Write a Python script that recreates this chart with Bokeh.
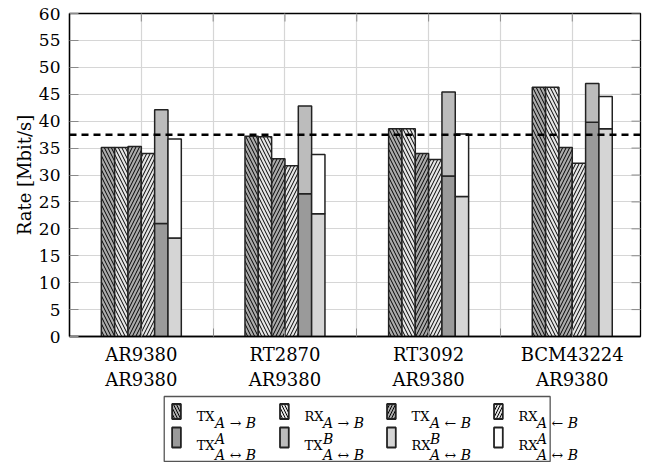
from bokeh.plotting import figure
from bokeh.models import Range1d, FixedTicker, Span
from bokeh.layouts import column
from bokeh.embed import file_html
from bokeh.resources import INLINE
from bokeh.core.properties import value

# ---------------- data ----------------
group_labels = ["AR9380\nAR9380", "RT2870\nAR9380", "RT3092\nAR9380", "BCM43224\nAR9380"]
group_pos = [1, 3, 5, 7]
tx_a_to_b = [35.1, 37.2, 38.6, 46.3]
rx_a_to_b = [35.1, 37.1, 38.6, 46.3]
tx_a_from_b = [35.3, 33.0, 34.0, 35.1]
rx_a_from_b = [34.0, 31.7, 32.9, 32.2]
tx_bi_A = [21.0, 26.5, 29.8, 39.8]
tx_bi_B = [21.1, 16.3, 15.6, 7.2]
rx_bi_B = [18.3, 22.8, 26.0, 38.6]
rx_bi_A = [18.4, 11.0, 11.6, 6.0]
reference_rate = 37.5
y_ticks = [0, 5, 10, 15, 20, 25, 30, 35, 40, 45, 50, 55, 60]
grid_x = [1, 2, 3, 4, 5, 6, 7]

FONT = "DejaVu Serif"
EDGE = "#222222"
TICK = "#8a8a8a"
GRID = "#d6d6d6"

st_tx_ab = dict(fill_color="#ababab", hatch_pattern="left_diagonal_line")
st_rx_ab = dict(fill_color="#e6e6e6", hatch_pattern="left_diagonal_line")
st_tx_ba = dict(fill_color="#ababab", hatch_pattern="right_diagonal_line")
st_rx_ba = dict(fill_color="#e6e6e6", hatch_pattern="right_diagonal_line")
st_txA = dict(fill_color="#9a9a9a")
st_txB = dict(fill_color="#bcbcbc")
st_rxB = dict(fill_color="#d5d5d5")
st_rxA = dict(fill_color="#ffffff")
HATCH = dict(hatch_color="black", hatch_scale=7, hatch_weight=1)

bw = 0.1856
X0, X1, Y0, Y1 = 0, 7.95, 0, 60
FRAME_W, FRAME_H = 571, 323  # frame size in px (for tick lengths)

p = figure(width=651, height=392, output_backend="svg", toolbar_location=None,
           x_range=Range1d(X0, X1), y_range=Range1d(Y0, Y1),
           min_border_left=69, min_border_right=11, min_border_top=13, min_border_bottom=56)
p.outline_line_color = "black"
p.outline_line_width = 1.3
p.background_fill_color = "white"
p.border_fill_color = "white"

p.xgrid.ticker = FixedTicker(ticks=grid_x)
p.ygrid.ticker = FixedTicker(ticks=y_ticks)
for g in (p.xgrid, p.ygrid):
    g.grid_line_color = GRID
    g.grid_line_width = 1.2

xa = p.xaxis[0]
xa.ticker = FixedTicker(ticks=group_pos, minor_ticks=[2, 4, 6])
xa.major_label_overrides = {k: v for k, v in zip(group_pos, group_labels)}
xa.major_label_text_font = FONT
xa.major_label_text_font_size = "18px"
xa.major_label_text_color = "black"
xa.major_label_standoff = 7
xa.major_tick_in = 8
xa.major_tick_out = 0
xa.minor_tick_in = 8
xa.minor_tick_out = 0
xa.major_tick_line_color = TICK
xa.minor_tick_line_color = TICK
xa.axis_line_color = "black"
xa.axis_line_width = 1.3

ya = p.yaxis[0]
ya.ticker = FixedTicker(ticks=y_ticks)
ya.major_label_text_font = FONT
ya.major_label_text_font_size = "17px"
ya.major_label_text_color = "black"
ya.major_label_standoff = 9
ya.major_tick_in = 9
ya.major_tick_out = 0
ya.minor_tick_line_color = None
ya.major_tick_line_color = TICK
ya.axis_line_color = "black"
ya.axis_line_width = 1.3
ya.axis_label = "Rate [Mbit/s]"
ya.axis_label_text_font = FONT
ya.axis_label_text_font_size = "18px"
ya.axis_label_text_font_style = "normal"
ya.axis_label_text_color = "black"
ya.axis_label_standoff = 1

# inward tick marks on the top and right frame edges
tlen_y = 8 * (Y1 - Y0) / FRAME_H
tlen_x = 9 * (X1 - X0) / FRAME_W
p.segment(x0=grid_x, x1=grid_x, y0=[Y1] * len(grid_x), y1=[Y1 - tlen_y] * len(grid_x),
          line_color=TICK, line_width=1)
p.segment(x0=[X1] * len(y_ticks), x1=[X1 - tlen_x] * len(y_ticks), y0=y_ticks, y1=y_ticks,
          line_color=TICK, line_width=1)

def xs(i):
    return [g + (i - 2.5) * bw for g in group_pos]

common = dict(width=bw, line_color=EDGE, line_width=1.5)
p.vbar(x=xs(0), top=tx_a_to_b, bottom=0, **common, **st_tx_ab, **HATCH)
p.vbar(x=xs(1), top=rx_a_to_b, bottom=0, **common, **st_rx_ab, **HATCH)
p.vbar(x=xs(2), top=tx_a_from_b, bottom=0, **common, **st_tx_ba, **HATCH)
p.vbar(x=xs(3), top=rx_a_from_b, bottom=0, **common, **st_rx_ba, **HATCH)
tx_tot = [a + b for a, b in zip(tx_bi_A, tx_bi_B)]
rx_tot = [a + b for a, b in zip(rx_bi_B, rx_bi_A)]
p.vbar(x=xs(4), top=tx_bi_A, bottom=0, **common, **st_txA)
p.vbar(x=xs(4), top=tx_tot, bottom=tx_bi_A, **common, **st_txB)
p.vbar(x=xs(5), top=rx_bi_B, bottom=0, **common, **st_rxB)
p.vbar(x=xs(5), top=rx_tot, bottom=rx_bi_B, **common, **st_rxA)

p.add_layout(Span(location=reference_rate, dimension="width", line_color="black",
                  line_width=2.5, line_dash="7 5"))

# ---------------- legend (separate panel, pixel coordinates) ----------------
lg = figure(width=651, height=70, output_backend="svg", toolbar_location=None,
            x_range=Range1d(0, 651), y_range=Range1d(70, 0),
            min_border=0, min_border_left=0, min_border_right=0, min_border_top=0, min_border_bottom=0)
lg.axis.visible = False
lg.xgrid.visible = False
lg.ygrid.visible = False
lg.outline_line_color = None

lg.quad(left=[108], right=[548], top=[4], bottom=[69], fill_color=None, line_color="#555555", line_width=1.3)

entries = [
    ("TX", "", "A \u2192 B", st_tx_ab),
    ("RX", "", "A \u2192 B", st_rx_ab),
    ("TX", "", "A \u2190 B", st_tx_ba),
    ("RX", "", "A \u2190 B", st_rx_ba),
    ("TX", "A", "A \u2194 B", st_txA),
    ("TX", "B", "A \u2194 B", st_txB),
    ("RX", "B", "A \u2194 B", st_rxB),
    ("RX", "A", "A \u2194 B", st_rxA),
]
col_x = [122, 245, 367, 489]
for k, (main, sup, sub, st) in enumerate(entries):
    row, col = divmod(k, 4)
    cx = col_x[col]
    if row == 0:
        cy, h, base, subb = 19, 15, 24, 30
    else:
        cy, h, base, subb = 45, 20, 53, 62
    kw = dict(st)
    if "hatch_pattern" in kw:
        kw.update(HATCH)
        kw["hatch_scale"] = 6
    lg.rect(x=[cx], y=[cy], width=10, height=h, line_color=EDGE, line_width=1.8, **kw)
    tx = cx + 23
    lg.text(x=[tx], y=[base], text=[main], text_font=value(FONT), text_font_size="13px",
            text_baseline="alphabetic", text_align="left", text_color="black")
    lg.text(x=[tx + 21], y=[subb], text=[sub], text_font=value(FONT), text_font_size="14px",
            text_font_style="italic", text_baseline="alphabetic", text_align="left", text_color="black")
    if sup:
        lg.text(x=[tx + 21], y=[46], text=[sup], text_font=value(FONT), text_font_size="14px",
                text_font_style="italic", text_baseline="alphabetic", text_align="left", text_color="black")

layout = column(p, lg, spacing=0)
open("out.html", "w").write(file_html(layout, INLINE))
